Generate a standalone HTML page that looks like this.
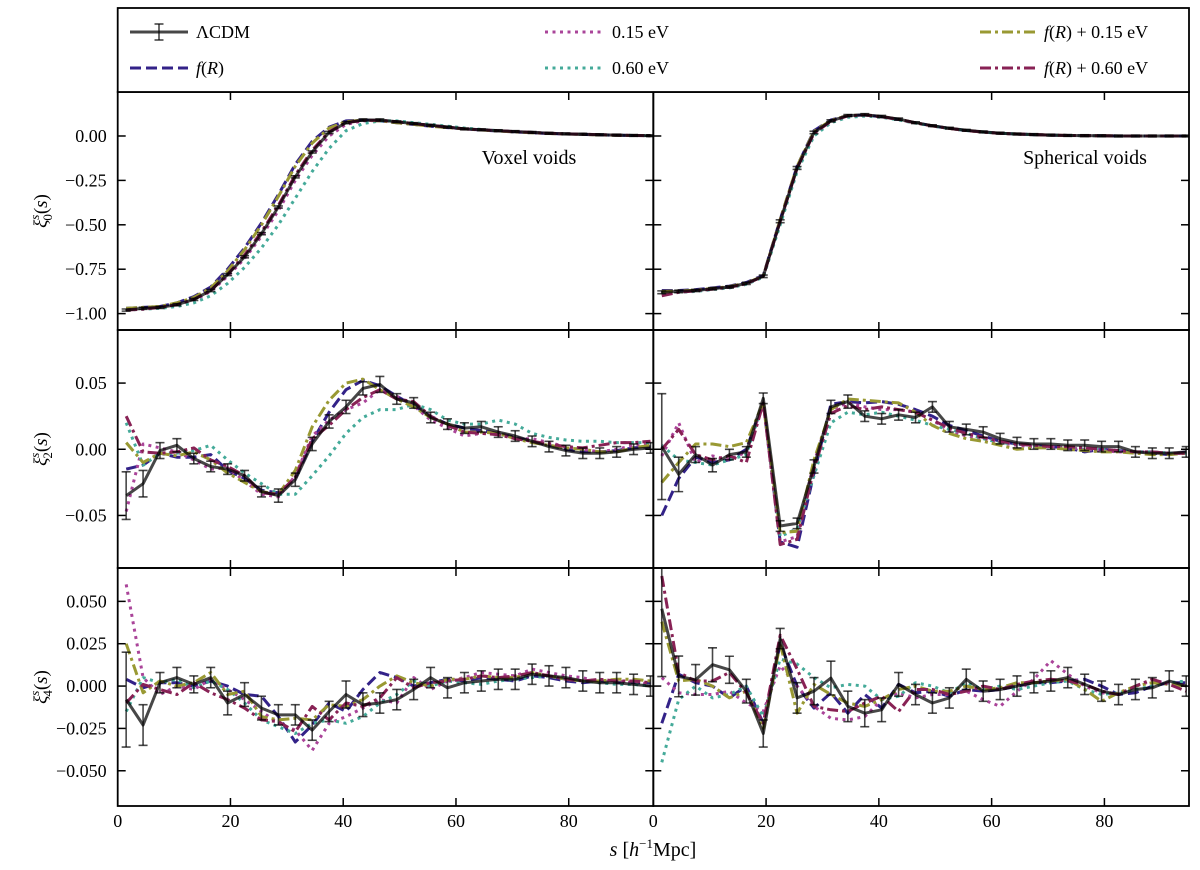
<!DOCTYPE html>
<html><head><meta charset="utf-8"><style>
html,body{margin:0;padding:0;background:#fff;}
svg{display:block;font-family:"Liberation Serif","DejaVu Serif",serif;}
</style></head><body>
<svg id="chart" width="1200" height="870" viewBox="0 0 1200 870"></svg>
<script>
const sVals = [1.5,4.5,7.5,10.5,13.5,16.5,19.5,22.5,25.5,28.5,31.5,34.5,37.5,40.5,43.5,46.5,49.5,52.5,55.5,58.5,61.5,64.5,67.5,70.5,73.5,76.5,79.5,82.5,85.5,88.5,91.5,94.5];
const seriesNames = ["ΛCDM","f(R)","0.15 eV","0.60 eV","f(R) + 0.15 eV","f(R) + 0.60 eV"];

// Left monopole
const L0_lcdm=[-0.98,-0.97,-0.965,-0.95,-0.92,-0.87,-0.78,-0.68,-0.55,-0.40,-0.23,-0.09,0.02,0.075,0.09,0.09,0.08,0.07,0.06,0.05,0.04,0.035,0.03,0.025,0.02,0.015,0.012,0.01,0.007,0.005,0.003,0.002];
const L0_fr=[-0.97,-0.965,-0.96,-0.94,-0.905,-0.85,-0.75,-0.63,-0.49,-0.33,-0.16,-0.03,0.05,0.085,0.09,0.085,0.075,0.065,0.055,0.047,0.04,0.034,0.028,0.023,0.018,0.014,0.011,0.009,0.006,0.004,0.003,0.002];
const L0_e15=[-0.98,-0.97,-0.965,-0.95,-0.925,-0.875,-0.79,-0.69,-0.565,-0.42,-0.25,-0.11,0.0,0.065,0.085,0.088,0.08,0.07,0.06,0.05,0.04,0.035,0.03,0.025,0.02,0.015,0.012,0.01,0.007,0.005,0.003,0.002];
const L0_e60=[-0.98,-0.975,-0.97,-0.96,-0.94,-0.90,-0.83,-0.74,-0.63,-0.50,-0.35,-0.20,-0.07,0.03,0.07,0.085,0.085,0.075,0.065,0.055,0.045,0.037,0.03,0.025,0.02,0.015,0.012,0.01,0.007,0.005,0.003,0.002];
const L0_fr15=[-0.97,-0.965,-0.96,-0.94,-0.91,-0.855,-0.76,-0.64,-0.50,-0.34,-0.17,-0.04,0.045,0.08,0.09,0.085,0.075,0.065,0.055,0.047,0.04,0.034,0.028,0.023,0.018,0.014,0.011,0.009,0.006,0.004,0.003,0.002];
const L0_fr60=[-0.98,-0.975,-0.965,-0.95,-0.92,-0.87,-0.78,-0.67,-0.54,-0.39,-0.22,-0.08,0.025,0.075,0.088,0.088,0.08,0.07,0.06,0.05,0.04,0.035,0.03,0.025,0.02,0.015,0.012,0.01,0.007,0.005,0.003,0.002];
const L0_err=[0.006,0.006,0.006,0.006,0.006,0.006,0.006,0.006,0.006,0.006,0.006,0.006,0.006,0.006,0.006,0.006,0.005,0.005,0.005,0.005,0.005,0.005,0.005,0.005,0.005,0.005,0.005,0.005,0.005,0.005,0.005,0.005];

// Right monopole
const R0_lcdm=[-0.88,-0.875,-0.87,-0.86,-0.85,-0.83,-0.79,-0.48,-0.18,0.02,0.085,0.115,0.12,0.11,0.095,0.075,0.058,0.044,0.032,0.023,0.016,0.011,0.008,0.005,0.003,0.002,0.001,0.0,0.0,0.0,0.0,0.0];
const R0_fr=[-0.87,-0.87,-0.865,-0.855,-0.845,-0.825,-0.785,-0.47,-0.17,0.03,0.09,0.115,0.118,0.108,0.093,0.074,0.057,0.043,0.031,0.022,0.015,0.011,0.008,0.005,0.003,0.002,0.001,0.0,0.0,0.0,0.0,0.0];
const R0_e15=[-0.885,-0.878,-0.872,-0.862,-0.852,-0.832,-0.792,-0.49,-0.19,0.01,0.08,0.11,0.118,0.108,0.093,0.074,0.057,0.043,0.031,0.022,0.015,0.011,0.008,0.005,0.003,0.002,0.001,0.0,0.0,0.0,0.0,0.0];
const R0_e60=[-0.89,-0.88,-0.875,-0.865,-0.855,-0.835,-0.795,-0.50,-0.20,0.0,0.075,0.105,0.112,0.105,0.09,0.072,0.056,0.042,0.031,0.022,0.015,0.011,0.008,0.005,0.003,0.002,0.001,0.0,0.0,0.0,0.0,0.0];
const R0_fr15=[-0.875,-0.872,-0.868,-0.858,-0.848,-0.828,-0.788,-0.47,-0.17,0.025,0.088,0.115,0.119,0.109,0.094,0.074,0.057,0.043,0.031,0.022,0.015,0.011,0.008,0.005,0.003,0.002,0.001,0.0,0.0,0.0,0.0,0.0];
const R0_fr60=[-0.90,-0.88,-0.872,-0.862,-0.852,-0.832,-0.79,-0.48,-0.18,0.015,0.083,0.113,0.118,0.108,0.094,0.074,0.057,0.043,0.031,0.022,0.015,0.011,0.008,0.005,0.003,0.002,0.001,0.0,0.0,0.0,0.0,0.0];
const R0_err=[0.008,0.007,0.006,0.006,0.006,0.006,0.007,0.008,0.008,0.007,0.006,0.006,0.006,0.006,0.006,0.005,0.005,0.005,0.005,0.005,0.005,0.005,0.005,0.005,0.005,0.005,0.005,0.005,0.005,0.005,0.005,0.005];

// Left quadrupole
const L2_lcdm=[-0.035,-0.026,-0.001,0.003,-0.007,-0.013,-0.015,-0.020,-0.032,-0.035,-0.023,0.004,0.021,0.032,0.046,0.049,0.038,0.035,0.024,0.019,0.016,0.017,0.013,0.010,0.006,0.002,-0.001,-0.003,-0.003,-0.002,0.000,0.001];
const L2_fr=[-0.015,-0.012,-0.003,-0.006,-0.006,-0.004,-0.016,-0.022,-0.031,-0.033,-0.022,0.006,0.028,0.045,0.052,0.048,0.040,0.033,0.025,0.019,0.016,0.014,0.012,0.009,0.006,0.003,0.0,-0.002,-0.002,-0.001,0.001,0.002];
const L2_e15=[-0.047,0.004,0.001,-0.002,-0.008,-0.015,-0.014,-0.024,-0.034,-0.036,-0.020,0.010,0.022,0.030,0.035,0.045,0.040,0.033,0.022,0.016,0.010,0.012,0.013,0.008,0.008,0.005,0.002,0.0,-0.002,0.0,0.003,0.004];
const L2_e60=[0.02,-0.012,-0.003,-0.003,-0.001,0.003,-0.008,-0.018,-0.026,-0.034,-0.034,-0.020,-0.005,0.012,0.024,0.030,0.030,0.034,0.030,0.022,0.019,0.019,0.022,0.019,0.012,0.009,0.007,0.006,0.006,0.005,0.005,0.005];
const L2_fr15=[0.005,-0.010,-0.003,-0.005,-0.002,-0.008,-0.018,-0.025,-0.032,-0.034,-0.016,0.017,0.037,0.050,0.053,0.045,0.038,0.032,0.024,0.019,0.013,0.013,0.012,0.008,0.005,0.003,0.001,0.000,-0.002,-0.002,0.001,0.003];
const L2_fr60=[0.025,-0.002,-0.003,-0.002,0.001,-0.008,-0.013,-0.020,-0.033,-0.034,-0.021,0.008,0.018,0.030,0.039,0.045,0.038,0.036,0.025,0.018,0.013,0.012,0.011,0.008,0.006,0.004,0.002,0.001,0.003,0.005,0.005,0.006];
const L2_err=[0.018,0.010,0.006,0.005,0.004,0.004,0.004,0.004,0.004,0.005,0.005,0.005,0.005,0.005,0.005,0.006,0.004,0.004,0.004,0.004,0.004,0.004,0.004,0.004,0.004,0.004,0.004,0.004,0.004,0.004,0.004,0.004];

// Right quadrupole
const R2_lcdm=[0.002,-0.019,-0.004,-0.012,-0.004,-0.002,0.0385,-0.058,-0.056,-0.013,0.032,0.036,0.025,0.023,0.026,0.024,0.032,0.017,0.015,0.013,0.008,0.005,0.004,0.004,0.003,0.003,0.002,0.002,-0.002,-0.003,-0.003,-0.002];
const R2_fr=[-0.050,-0.022,-0.006,-0.010,-0.008,0.0,0.035,-0.070,-0.074,-0.018,0.034,0.036,0.035,0.036,0.034,0.030,0.025,0.018,0.014,0.010,0.006,0.004,0.003,0.002,0.001,-0.002,0.000,-0.001,-0.002,-0.003,-0.004,-0.002];
const R2_e15=[-0.005,0.020,-0.010,-0.005,-0.008,-0.002,0.035,-0.070,-0.066,-0.010,0.030,0.035,0.032,0.030,0.030,0.028,0.022,0.014,0.010,0.008,0.005,0.003,0.002,0.002,0.001,0.0,-0.001,-0.002,-0.002,-0.002,-0.003,-0.003];
const R2_e60=[0.003,-0.008,-0.010,-0.012,-0.008,-0.004,0.035,-0.066,-0.060,-0.020,0.020,0.028,0.026,0.028,0.025,0.022,0.018,0.015,0.012,0.008,0.005,0.004,0.003,0.002,0.001,0.000,0.000,-0.001,-0.002,-0.002,-0.003,-0.003];
const R2_fr15=[-0.025,-0.010,0.004,0.004,0.002,0.005,0.035,-0.063,-0.062,-0.008,0.030,0.038,0.037,0.036,0.035,0.028,0.018,0.012,0.008,0.006,0.003,0.000,0.001,0.001,0.000,-0.001,-0.002,-0.002,-0.003,-0.004,-0.004,-0.003];
const R2_fr60=[0.0,0.015,-0.004,-0.008,-0.005,-0.010,0.035,-0.072,-0.068,-0.015,0.027,0.033,0.030,0.032,0.030,0.028,0.022,0.016,0.012,0.009,0.006,0.004,0.003,0.002,0.002,0.001,0.0,-0.001,-0.002,-0.002,-0.003,-0.003];
const R2_err=[0.040,0.013,0.006,0.005,0.004,0.004,0.004,0.004,0.004,0.005,0.005,0.005,0.004,0.004,0.004,0.004,0.004,0.004,0.004,0.004,0.004,0.004,0.004,0.004,0.004,0.004,0.004,0.004,0.004,0.004,0.004,0.004];

// Left hexadecapole
const L4_lcdm=[-0.008,-0.023,0.002,0.005,0.001,0.005,-0.010,-0.005,-0.013,-0.017,-0.017,-0.026,-0.015,-0.005,-0.011,-0.010,-0.008,-0.002,0.005,-0.001,0.002,0.003,0.004,0.004,0.007,0.006,0.005,0.003,0.002,0.002,0.001,0.000];
const L4_fr=[0.004,-0.001,0.002,0.002,0.000,0.003,0.000,-0.005,-0.006,-0.018,-0.033,-0.023,-0.010,-0.015,-0.002,0.008,0.005,0.000,0.002,0.004,0.003,0.005,0.004,0.003,0.006,0.005,0.003,0.002,0.003,0.002,0.002,0.002];
const L4_e15=[0.060,0.005,-0.005,0.0,-0.002,0.004,-0.002,-0.008,-0.015,-0.022,-0.026,-0.038,-0.022,-0.018,-0.013,-0.008,-0.010,0.005,-0.002,0.003,0.005,0.008,0.007,0.006,0.010,0.008,0.006,0.005,0.002,0.003,0.002,0.001];
const L4_e60=[-0.015,0.005,0.002,0.004,-0.001,0.003,-0.002,-0.010,-0.020,-0.024,-0.028,-0.022,-0.020,-0.022,-0.018,-0.010,-0.005,0.003,0.000,0.003,0.002,0.001,0.003,0.004,0.005,0.006,0.004,0.003,0.002,0.001,0.001,0.000];
const L4_fr15=[0.025,-0.004,0.003,0.000,0.002,0.008,-0.005,-0.003,-0.018,-0.020,-0.019,-0.020,-0.011,-0.012,-0.008,0.000,0.006,0.002,0.000,0.004,0.004,0.006,0.005,0.005,0.008,0.006,0.004,0.003,0.003,0.004,0.004,0.003];
const L4_fr60=[-0.010,0.001,-0.002,-0.005,0.002,-0.004,-0.008,-0.013,-0.020,-0.021,-0.027,-0.012,-0.020,-0.010,-0.012,-0.007,0.005,-0.001,0.002,0.003,0.004,0.006,0.005,0.006,0.008,0.006,0.004,0.003,0.004,0.003,0.003,0.002];
const L4_err=[0.028,0.012,0.006,0.006,0.005,0.006,0.007,0.007,0.007,0.006,0.006,0.006,0.006,0.008,0.007,0.006,0.006,0.006,0.006,0.006,0.006,0.006,0.006,0.006,0.006,0.006,0.006,0.006,0.006,0.006,0.006,0.006];

// Right hexadecapole
const R4_lcdm=[0.0456,0.0057,0.0037,0.0126,0.0096,-0.003,-0.028,0.028,-0.007,-0.003,0.0047,-0.012,-0.016,-0.014,0.001,-0.005,-0.010,-0.007,0.004,-0.003,-0.002,0.000,0.002,0.003,0.005,0.001,-0.003,-0.005,-0.002,-0.001,0.003,0.000];
const R4_fr=[-0.022,0.007,0.002,0.000,-0.007,0.000,-0.022,0.025,0.000,-0.013,-0.004,-0.016,-0.005,-0.013,0.001,-0.004,-0.003,-0.006,-0.002,-0.003,-0.002,0.000,0.002,0.002,0.003,0.004,0.000,-0.005,-0.004,0.000,0.002,0.002];
const R4_e15=[0.005,-0.004,-0.005,-0.005,-0.003,-0.010,-0.015,0.012,0.000,-0.012,-0.019,-0.020,-0.018,-0.008,-0.004,-0.007,-0.005,-0.005,-0.003,-0.008,-0.012,-0.003,0.004,0.015,0.007,0.000,-0.004,-0.005,0.000,0.003,0.002,0.000];
const R4_e60=[-0.045,-0.008,0.000,-0.007,-0.005,0.000,-0.018,0.016,0.013,0.005,-0.001,0.001,0.000,-0.008,-0.006,0.002,0.000,-0.004,0.002,-0.002,0.000,-0.002,0.000,0.002,0.003,-0.002,-0.005,-0.004,-0.002,0.000,0.002,0.003];
const R4_fr15=[0.038,0.003,0.004,0.000,-0.007,-0.003,-0.025,0.025,-0.016,0.001,-0.005,-0.010,-0.012,-0.008,-0.002,0.000,-0.003,-0.003,0.000,-0.002,-0.001,0.002,0.002,0.003,0.004,-0.002,-0.009,-0.004,0.000,0.002,0.001,0.000];
const R4_fr60=[0.065,0.008,0.003,0.003,0.008,-0.004,-0.022,0.030,0.010,-0.012,-0.014,-0.015,-0.010,-0.006,-0.015,-0.002,-0.002,-0.005,-0.003,0.000,-0.002,0.001,0.003,0.004,0.003,0.001,-0.003,-0.005,0.000,0.004,0.001,-0.003];
const R4_err=[0.040,0.012,0.009,0.010,0.008,0.007,0.008,0.006,0.009,0.008,0.010,0.009,0.008,0.007,0.007,0.006,0.006,0.006,0.006,0.006,0.006,0.006,0.006,0.006,0.006,0.006,0.006,0.006,0.006,0.006,0.006,0.006];

const xTicks=[0,20,40,60,80];
const row0Ticks=[0.00,-0.25,-0.50,-0.75,-1.00];
const row1Ticks=[0.05,0.00,-0.05];
const row2Ticks=[0.050,0.025,0.000,-0.025,-0.050];

const NS='http://www.w3.org/2000/svg';
const svg=document.getElementById('chart');
function mk(tag,attrs,parent){const e=document.createElementNS(NS,tag);for(const k in attrs)e.setAttribute(k,attrs[k]);(parent||svg).appendChild(e);return e;}
function fmt(v,d){let s=Math.abs(v).toFixed(d);return (v<-1e-9?'\u2212':'')+s;}

const colX=[[117.7,653.3],[653.3,1189]];
const rows=[
 {y0:92,y1:330,ymin:-1.0923,ymax:0.2477,ticks:row0Ticks,dec:2,ell:'0'},
 {y0:330,y1:568,ymin:-0.0897,ymax:0.0901,ticks:row1Ticks,dec:2,ell:'2'},
 {y0:568,y1:806,ymin:-0.0708,ymax:0.0697,ticks:row2Ticks,dec:3,ell:'4'}
];
const panelData=[
 [[L0_lcdm,L0_fr,L0_e15,L0_e60,L0_fr15,L0_fr60,L0_err],[R0_lcdm,R0_fr,R0_e15,R0_e60,R0_fr15,R0_fr60,R0_err]],
 [[L2_lcdm,L2_fr,L2_e15,L2_e60,L2_fr15,L2_fr60,L2_err],[R2_lcdm,R2_fr,R2_e15,R2_e60,R2_fr15,R2_fr60,R2_err]],
 [[L4_lcdm,L4_fr,L4_e15,L4_e60,L4_fr15,L4_fr60,L4_err],[R4_lcdm,R4_fr,R4_e15,R4_e60,R4_fr15,R4_fr60,R4_err]]
];
const styles=[
 null,
 {c:'#332288',dash:'11,5',key:'fr'},
 {c:'#AA4499',dash:'3,4.5',key:'e15'},
 {c:'#44AA99',dash:'3,4.5',key:'e60'},
 {c:'#999933',dash:'11,4,3,4',key:'fr15'},
 {c:'#882255',dash:'11,4,3,4',key:'fr60'}
];
const XMIN=0,XMAX=95;

rows.forEach((r,ri)=>{
 colX.forEach((cx,ci)=>{
  const xs=v=>cx[0]+(v-XMIN)/(XMAX-XMIN)*(cx[1]-cx[0]);
  const ys=v=>r.y1-(v-r.ymin)/(r.ymax-r.ymin)*(r.y1-r.y0);
  const pname=(ci?'right':'left')+'-panel-l'+r.ell;
  const g=mk('g',{});
  
  
  const cid='clip'+ri+ci;
  const cp=mk('clipPath',{id:cid},g);
  mk('rect',{x:cx[0],y:r.y0,width:cx[1]-cx[0],height:r.y1-r.y0},cp);
  const data=panelData[ri][ci];
  const plot=mk('g',{'clip-path':'url(#'+cid+')'},g);
  [1,2,3,4,5].forEach(k=>{
   const st=styles[k];
   const pts=sVals.map((s,i)=>xs(s).toFixed(1)+','+ys(data[k][i]).toFixed(1)).join(' ');
   const pl=mk('polyline',{points:pts,fill:'none',stroke:st.c,'stroke-width':3,'stroke-dasharray':st.dash,'stroke-linejoin':'round'},plot);
   
   
  });
  const lc=data[0],er=data[6];
  const pts=sVals.map((s,i)=>xs(s).toFixed(1)+','+ys(lc[i]).toFixed(1)).join(' ');
  const pl=mk('polyline',{points:pts,fill:'none',stroke:'#000','stroke-opacity':0.72,'stroke-width':3,'stroke-linejoin':'round'},plot);
  
  
  sVals.forEach((s,i)=>{
   const x=xs(s),ya=ys(lc[i]+er[i]),yb=ys(lc[i]-er[i]);
   const eg=mk('g',{stroke:'#000','stroke-opacity':0.72,'stroke-width':1.6},plot);
   
   
   mk('line',{x1:x,x2:x,y1:ya,y2:yb},eg);
   mk('line',{x1:x-4.5,x2:x+4.5,y1:ya,y2:ya},eg);
   mk('line',{x1:x-4.5,x2:x+4.5,y1:yb,y2:yb},eg);
  });
  const fr=mk('rect',{x:cx[0],y:r.y0,width:cx[1]-cx[0],height:r.y1-r.y0,fill:'none',stroke:'#000','stroke-width':1.8},g);
  
  
  xTicks.forEach(t=>{
   const x=xs(t);
   if(t>XMIN){
    mk('line',{x1:x,x2:x,y1:r.y1,y2:r.y1-8,stroke:'#000','stroke-width':1.5},g);
    mk('line',{x1:x,x2:x,y1:r.y0,y2:r.y0+8,stroke:'#000','stroke-width':1.5},g);
   }
   if(ri===2){
    const tx=mk('text',{x:x,y:r.y1+21,'text-anchor':'middle','font-size':18},g);
    tx.textContent=String(t);
    
    
   }
  });
  r.ticks.forEach(t=>{
   const y=ys(t);
   mk('line',{x1:cx[0],x2:cx[0]+8,y1:y,y2:y,stroke:'#000','stroke-width':1.5},g);
   mk('line',{x1:cx[1],x2:cx[1]-8,y1:y,y2:y,stroke:'#000','stroke-width':1.5},g);
   if(ci===0){
    const tx=mk('text',{x:cx[0]-11,y:y+6,'text-anchor':'end','font-size':18},g);
    tx.textContent=fmt(t,r.dec);
    
    
   }
  });
 });
 const cy=(r.y0+r.y1)/2;
 const yt=mk('text',{x:0,y:0,transform:'translate(47,'+cy+') rotate(-90)','text-anchor':'middle','font-size':19});
 
 
 yt.innerHTML='<tspan font-style="italic">ξ</tspan><tspan font-size="13" dy="-8" font-style="italic">s</tspan><tspan font-size="13" dy="13" dx="-6">'+r.ell+'</tspan><tspan dy="-5">(</tspan><tspan font-style="italic">s</tspan><tspan>)</tspan>';
});
</script>
<script>
(function(){
 const svg=document.getElementById('chart');
 const NS='http://www.w3.org/2000/svg';
 const g=document.createElementNS(NS,'g');
 g.innerHTML=`
 <g>
  <rect x="117.7" y="8" width="1071.3" height="84" fill="#fff" stroke="#000" stroke-width="1.8"/>
  <g>
   <line x1="130" x2="188" y1="32" y2="32" stroke="#000" stroke-opacity="0.72" stroke-width="3"/>
   <line x1="159" x2="159" y1="24" y2="40" stroke="#000" stroke-opacity="0.72" stroke-width="1.6"/>
   <line x1="154.5" x2="163.5" y1="24" y2="24" stroke="#000" stroke-opacity="0.72" stroke-width="1.6"/>
   <line x1="154.5" x2="163.5" y1="40" y2="40" stroke="#000" stroke-opacity="0.72" stroke-width="1.6"/>
   <text x="196" y="38" font-size="18">ΛCDM</text>
  </g>
  <g>
   <line x1="130" x2="188" y1="68" y2="68" stroke="#332288" stroke-width="3" stroke-dasharray="11,5"/>
   <text x="196" y="74" font-size="18"><tspan font-style="italic">f</tspan>(<tspan font-style="italic">R</tspan>)</text>
  </g>
  <g>
   <line x1="545" x2="602" y1="32" y2="32" stroke="#AA4499" stroke-width="3" stroke-dasharray="3,4.5"/>
   <text x="612" y="38" font-size="18">0.15 eV</text>
  </g>
  <g>
   <line x1="545" x2="602" y1="68" y2="68" stroke="#44AA99" stroke-width="3" stroke-dasharray="3,4.5"/>
   <text x="612" y="74" font-size="18">0.60 eV</text>
  </g>
  <g>
   <line x1="980" x2="1036" y1="32" y2="32" stroke="#999933" stroke-width="3" stroke-dasharray="11,4,3,4"/>
   <text x="1044" y="38" font-size="18"><tspan font-style="italic">f</tspan>(<tspan font-style="italic">R</tspan>) + 0.15 eV</text>
  </g>
  <g>
   <line x1="980" x2="1036" y1="68" y2="68" stroke="#882255" stroke-width="3" stroke-dasharray="11,4,3,4"/>
   <text x="1044" y="74" font-size="18"><tspan font-style="italic">f</tspan>(<tspan font-style="italic">R</tspan>) + 0.60 eV</text>
  </g>
 </g>
 <text x="529" y="164" text-anchor="middle" font-size="20">Voxel voids</text>
 <text x="1085" y="164" text-anchor="middle" font-size="20">Spherical voids</text>
 <text x="653" y="856" text-anchor="middle" font-size="20"><tspan font-style="italic">s</tspan> [<tspan font-style="italic">h</tspan><tspan font-size="13" dy="-8">−1</tspan><tspan dy="8">Mpc]</tspan></text>`;
 svg.appendChild(g);
})();
</script>
</body></html>
